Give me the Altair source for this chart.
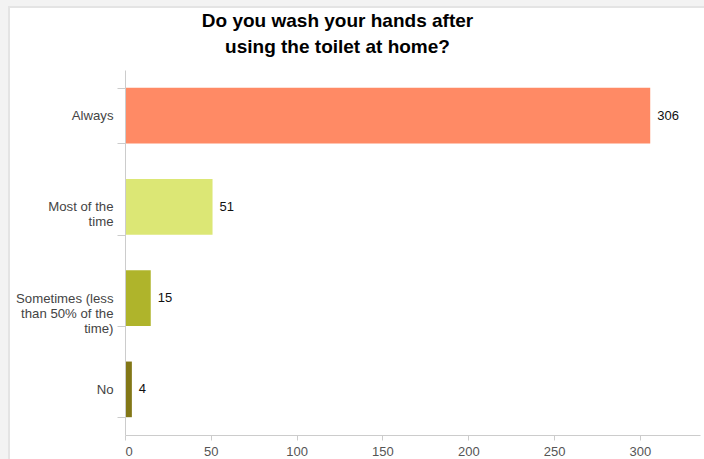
import altair as alt
import pandas as pd

categories = ["Always", "Most of the time", "Sometimes (less than 50% of the time)", "No"]
label_lines = [["Always"], ["Most of the", "time"], ["Sometimes (less", "than 50% of the", "time)"], ["No"]]
values = [306, 51, 15, 4]
colors = ["#FF8A65", "#DCE775", "#AFB42B", "#827717"]
x_ticks = [0, 50, 100, 150, 200, 250, 300]

df = pd.DataFrame({"answer": categories, "count": values})

label_expr = " : ".join(
    f"datum.value == '{c}' ? {l!r}" for c, l in zip(categories, label_lines)
) + " : datum.value"

W, H = 575, 365

frame = alt.Chart(pd.DataFrame({"a": [0]})).mark_rect(
    fill="white", stroke="#e4e4e4", strokeWidth=2
).encode(
    x=alt.value(-116), x2=alt.value(W + 40),
    y=alt.value(-63), y2=alt.value(H + 60),
)

y_enc = alt.Y(
    "answer:N", sort=categories, title=None,
    scale=alt.Scale(paddingInner=0.39, paddingOuter=0.195),
    axis=alt.Axis(
        labelExpr=label_expr, tickBand="extent", tickSize=8, tickColor="#cccccc",
        domainColor="#cccccc", labelFontSize=13.2, labelColor="#444444",
        labelFont="Liberation Sans", labelLineHeight=15, labelPadding=4,
        labelLimit=200, zindex=1,
    ),
)
x_enc = alt.X(
    "count:Q", title=None,
    scale=alt.Scale(domain=[0, 335], nice=False),
    axis=alt.Axis(
        values=x_ticks, grid=False, tickSize=5, tickColor="#cccccc",
        domainColor="#cccccc", labelFontSize=13, labelColor="#555555",
        labelFont="Liberation Sans", labelPadding=5, zindex=1,
    ),
)

bars = alt.Chart(df).mark_bar().encode(
    x=x_enc, y=y_enc,
    color=alt.Color("answer:N", scale=alt.Scale(domain=categories, range=colors), legend=None),
)

text = alt.Chart(df).mark_text(
    align="left", baseline="middle", dx=7, fontSize=13, font="Liberation Sans",
    color="#111111",
).encode(x=x_enc, y=y_enc, text="count:Q")

chart = alt.layer(frame, bars, text).properties(
    width=W, height=H,
    background="#f3f3f3",
    padding={"left": 125, "top": 70, "right": 4, "bottom": 24},
    autosize=alt.AutoSizeParams(type="none"),
    title=alt.TitleParams(
        ["Do you wash your hands after", "using the toilet at home?"],
        anchor="middle", frame="group", dx=-75, offset=0, dy=70, fontSize=19,
        font="Liberation Sans", fontWeight="bold", color="#000000", lineHeight=26,
        baseline="bottom",
    ),
).configure_view(stroke=None)

chart.save("out.html", embed_options={"renderer": "svg", "actions": False})
